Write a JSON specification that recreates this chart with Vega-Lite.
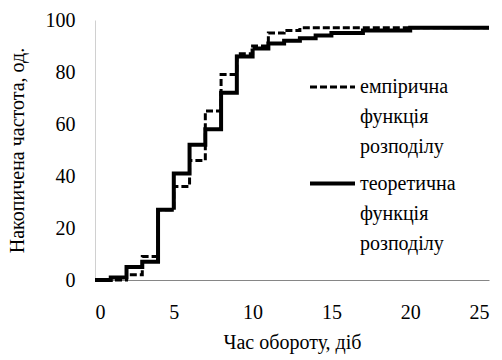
{
  "$schema": "https://vega.github.io/schema/vega-lite/v6.json",
  "width": 394,
  "height": 260,
  "autosize": {"type": "none"},
  "padding": {"left": 95, "top": 20, "right": 13, "bottom": 80},
  "background": "white",
  "config": {
    "view": {"stroke": null},
    "font": "'Liberation Serif', serif",
    "axis": {"grid": false, "ticks": false, "labelFont": "'Liberation Serif', serif", "titleFont": "'Liberation Serif', serif", "labelFontSize": 20, "titleFontSize": 20, "labelColor": "#000", "titleColor": "#000", "titleFontWeight": "normal"},
    "legend": {"labelFont": "'Liberation Serif', serif"}
  },
  "data": {
    "values": [
      {"x": 0, "y": 0, "s": "емпірична функція розподілу"},
      {"x": 1, "y": 0, "s": "емпірична функція розподілу"},
      {"x": 2, "y": 2, "s": "емпірична функція розподілу"},
      {"x": 3, "y": 9, "s": "емпірична функція розподілу"},
      {"x": 4, "y": 27, "s": "емпірична функція розподілу"},
      {"x": 5, "y": 36, "s": "емпірична функція розподілу"},
      {"x": 6, "y": 46, "s": "емпірична функція розподілу"},
      {"x": 7, "y": 65, "s": "емпірична функція розподілу"},
      {"x": 8, "y": 79, "s": "емпірична функція розподілу"},
      {"x": 9, "y": 87, "s": "емпірична функція розподілу"},
      {"x": 10, "y": 90, "s": "емпірична функція розподілу"},
      {"x": 11, "y": 95, "s": "емпірична функція розподілу"},
      {"x": 12, "y": 96, "s": "емпірична функція розподілу"},
      {"x": 13, "y": 97, "s": "емпірична функція розподілу"},
      {"x": 25, "y": 97, "s": "емпірична функція розподілу"},
      {"x": 0, "y": 0, "s": "теоретична функція розподілу"},
      {"x": 1, "y": 1, "s": "теоретична функція розподілу"},
      {"x": 2, "y": 5, "s": "теоретична функція розподілу"},
      {"x": 3, "y": 7, "s": "теоретична функція розподілу"},
      {"x": 4, "y": 27, "s": "теоретична функція розподілу"},
      {"x": 5, "y": 41, "s": "теоретична функція розподілу"},
      {"x": 6, "y": 52, "s": "теоретична функція розподілу"},
      {"x": 7, "y": 58, "s": "теоретична функція розподілу"},
      {"x": 8, "y": 72, "s": "теоретична функція розподілу"},
      {"x": 9, "y": 86, "s": "теоретична функція розподілу"},
      {"x": 10, "y": 89, "s": "теоретична функція розподілу"},
      {"x": 11, "y": 91, "s": "теоретична функція розподілу"},
      {"x": 12, "y": 92, "s": "теоретична функція розподілу"},
      {"x": 13, "y": 93, "s": "теоретична функція розподілу"},
      {"x": 14, "y": 94, "s": "теоретична функція розподілу"},
      {"x": 15, "y": 95, "s": "теоретична функція розподілу"},
      {"x": 17, "y": 96, "s": "теоретична функція розподілу"},
      {"x": 20, "y": 97, "s": "теоретична функція розподілу"},
      {"x": 25, "y": 97, "s": "теоретична функція розподілу"}
    ]
  },
  "mark": {"type": "line", "interpolate": "step-after", "color": "black"},
  "encoding": {
    "x": {"field": "x", "type": "quantitative", "scale": {"domain": [0, 25], "nice": false}, "axis": {"values": [0, 5, 10, 15, 20, 25], "title": "Час обороту, діб", "domainColor": "#868686", "labelPadding": 22, "titlePadding": 10}},
    "y": {"field": "y", "type": "quantitative", "scale": {"domain": [0, 100], "nice": false}, "axis": {"values": [0, 20, 40, 60, 80, 100], "title": "Накопичена частота, од.", "domainColor": "#d0d0d0", "labelPadding": 20, "titlePadding": 18}},
    "strokeDash": {"field": "s", "type": "nominal", "scale": {"domain": ["емпірична функція розподілу", "теоретична функція розподілу"], "range": [[7, 3], [1, 0]]}, "legend": {"title": null, "orient": "none", "legendX": 213, "legendY": 43, "symbolType": "stroke", "symbolSize": 2025, "symbolStrokeColor": "black", "labelFont": "'Liberation Serif', serif", "labelFontSize": 20, "labelColor": "#000", "labelExpr": "split(datum.label, ' ')", "labelBaseline": "top", "labelOffset": 3, "rowPadding": 2, "labelLimit": 300, "encode": {"labels": {"update": {"lineHeight": {"value": 30}, "dy": {"value": -10}}}}}},
    "strokeWidth": {"field": "s", "type": "nominal", "scale": {"domain": ["емпірична функція розподілу", "теоретична функція розподілу"], "range": [3, 4]}, "legend": null}
  }
}
